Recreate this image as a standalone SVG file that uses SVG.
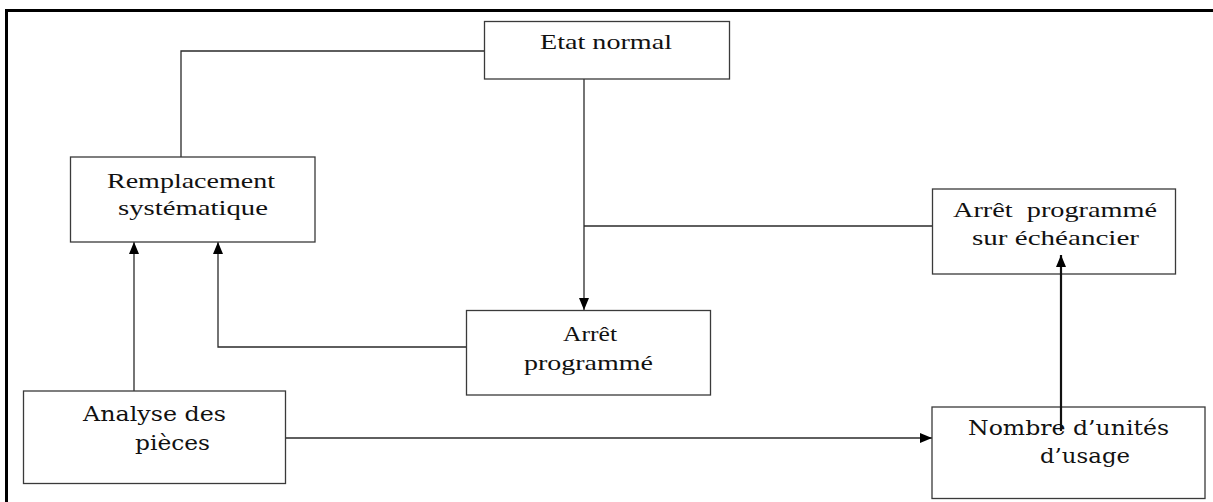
<svg xmlns="http://www.w3.org/2000/svg" width="1213" height="502" viewBox="0 0 1213 502">
  <style>
    .box { fill: #ffffff; stroke: #3a3a3a; stroke-width: 1.3; }
    .lbl { font-family: "Liberation Serif", "Times New Roman", serif; font-size: 22px; fill: #111111; }
    .lbl2 { font-family: "DejaVu Serif", "Liberation Serif", serif; font-size: 21px; fill: #111111; }
    .wire { fill: none; stroke: #2a2a2a; stroke-width: 1.3; }
    .wire-bold { fill: none; stroke: #111111; stroke-width: 2.2; }
    .frame { fill: none; stroke: #000000; stroke-width: 3; }
  </style>
  <defs>
    <marker id="arrow" markerUnits="userSpaceOnUse" markerWidth="12" markerHeight="12" viewBox="0 0 12 12" refX="12" refY="6" orient="auto">
      <path d="M0,1 L12,6 L0,11 Z" fill="#000000"/>
    </marker>
  </defs>

  <rect width="1213" height="502" fill="#ffffff"/>

  <!-- outer frame (left and top edges) -->
  <path class="frame" d="M6.5,502 V10.5 H1213"/>

  <!-- connectors -->
  <g id="connectors">
    <path class="wire" d="M484,51 H181 V157"/>
    <path class="wire" d="M584,79 V310" marker-end="url(#arrow)"/>
    <path class="wire" d="M584,226 H932"/>
    <path class="wire" d="M134,391 V242" marker-end="url(#arrow)"/>
    <path class="wire" d="M467,347 H218 V242" marker-end="url(#arrow)"/>
    <path class="wire" d="M286,438 H932" marker-end="url(#arrow)"/>
  </g>

  <g id="etat-normal">
    <rect class="box" x="484.5" y="21.5" width="245" height="57.5"/>
    <text class="lbl" x="540" y="49" textLength="132" lengthAdjust="spacingAndGlyphs">Etat normal</text>
  </g>

  <g id="remplacement">
    <rect class="box" x="70.5" y="157" width="244.5" height="85"/>
    <text class="lbl" x="107" y="187.5" textLength="168" lengthAdjust="spacingAndGlyphs">Remplacement</text>
    <text class="lbl" x="118" y="215" textLength="150" lengthAdjust="spacingAndGlyphs">systématique</text>
  </g>

  <g id="arret-programme">
    <rect class="box" x="466.5" y="310.5" width="244" height="84.5"/>
    <text class="lbl" x="563" y="340.5" textLength="54" lengthAdjust="spacingAndGlyphs">Arrêt</text>
    <text class="lbl" x="524" y="370" textLength="129" lengthAdjust="spacingAndGlyphs">programmé</text>
  </g>

  <g id="arret-echeancier">
    <rect class="box" x="932.5" y="189" width="243" height="85"/>
    <text class="lbl" x="953" y="216.5" textLength="204" lengthAdjust="spacingAndGlyphs" xml:space="preserve">Arrêt  programmé</text>
    <text class="lbl" x="972" y="245" textLength="167" lengthAdjust="spacingAndGlyphs">sur échéancier</text>
  </g>

  <g id="analyse-pieces">
    <rect class="box" x="23.5" y="391" width="262" height="92.5"/>
    <text class="lbl2" x="83" y="420.5" textLength="143" lengthAdjust="spacingAndGlyphs">Analyse des</text>
    <text class="lbl2" x="135" y="450" textLength="75" lengthAdjust="spacingAndGlyphs">pièces</text>
  </g>

  <g id="nombre-unites">
    <rect class="box" x="932" y="407" width="273" height="91.5"/>
    <text class="lbl2" x="968" y="435" textLength="201" lengthAdjust="spacingAndGlyphs">Nombre d’unités</text>
    <text class="lbl2" x="1040" y="463" textLength="90" lengthAdjust="spacingAndGlyphs">d’usage</text>
  </g>

  <!-- usage count feeding the scheduled stop, drawn over its box -->
  <g id="connectors-top">
    <path class="wire-bold" d="M1061,431 V255" marker-end="url(#arrow)"/>
  </g>
</svg>
